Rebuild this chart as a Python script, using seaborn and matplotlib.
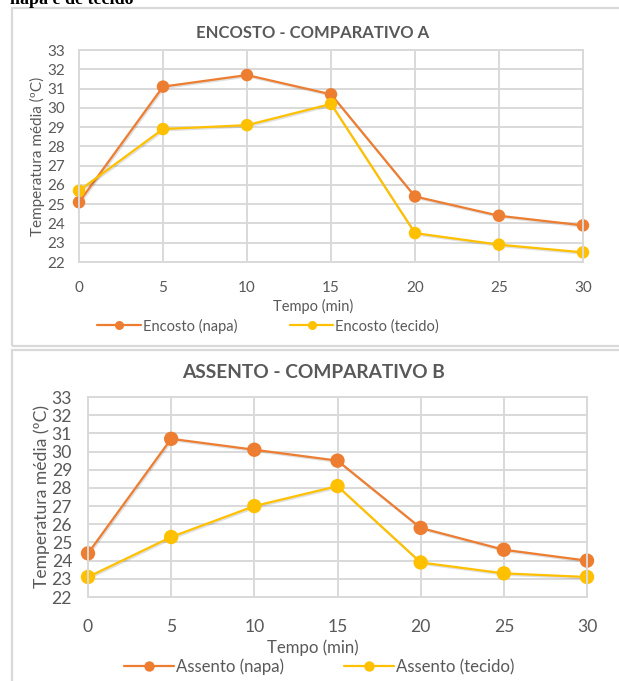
import numpy as np
import pandas as pd
import seaborn as sns
import matplotlib.pyplot as plt
from matplotlib.patches import Rectangle
import matplotlib.patheffects as pe

# --- Data ---
tempo = [0, 5, 10, 15, 20, 25, 30]
encosto_napa = [25.1, 31.1, 31.7, 30.7, 25.4, 24.4, 23.9]
encosto_tecido = [25.7, 28.9, 29.1, 30.2, 23.5, 22.9, 22.5]
assento_napa = [24.4, 30.7, 30.1, 29.5, 25.8, 24.6, 24.0]
assento_tecido = [23.1, 25.3, 27.0, 28.1, 23.9, 23.3, 23.1]

y_ticks = list(range(22, 34))
ORANGE = "#ED7D31"
YELLOW = "#FFC000"
TEXT = "#595959"
GRID = "#D9D9D9"

sns.set_theme(style="white")
plt.rcParams["font.family"] = ["Lato", "DejaVu Sans"]

W, H = 619, 681
fig = plt.figure(figsize=(W / 100, H / 100), dpi=100)


def px_axes(x0, y0, x1, y1):
    """Axes from pixel box (top-left origin)."""
    return fig.add_axes([x0 / W, 1 - y1 / H, (x1 - x0) / W, (y1 - y0) / H])


def draw_chart(ax, napa, tecido, names, title, scale, title_y, xlab_y, leg_x, leg_y, ylab_pad):
    df = pd.DataFrame({
        "tempo": tempo * 2,
        "temp": napa + tecido,
        "serie": [names[0]] * len(tempo) + [names[1]] * len(tempo),
    })
    sns.lineplot(data=df, x="tempo", y="temp", hue="serie",
                 palette=[ORANGE, YELLOW], marker="o", markersize=9 * scale,
                 markeredgewidth=0, linewidth=1.6, ax=ax, legend=False)
    for ln in ax.lines:
        ln.set_clip_on(False)
        ln.set_path_effects([pe.SimpleLineShadow(offset=(0.8, -1.0), alpha=0.12, shadow_color="black"),
                             pe.Normal()])

    ax.set_xlim(0, 30)
    ax.set_ylim(22, 33)
    ax.set_xticks(tempo)
    ax.set_yticks(y_ticks)
    ax.grid(True, color=GRID, linewidth=1.4)
    ax.set_axisbelow(True)
    for s in ax.spines.values():
        s.set_color(GRID)
        s.set_linewidth(1.4)
    ax.tick_params(axis="x", length=0, pad=13.5 * scale, labelsize=11 * scale, labelcolor=TEXT)
    ax.tick_params(axis="y", length=0, pad=10 * scale, labelsize=11 * scale, labelcolor=TEXT)
    ax.set_xlabel("")
    ax.set_ylabel("Temperatura média (ºC)", fontsize=11 * scale, color=TEXT, labelpad=ylab_pad)

    fig.text(313 / W, 1 - title_y / H, title, ha="center", va="center",
             fontsize=12 * scale, fontweight="bold", color=TEXT)
    fig.text(313 / W, 1 - xlab_y / H, "Tempo (min)", ha="center", va="center",
             fontsize=10.5 * scale, color=TEXT)

    handles = [plt.Line2D([], [], color=c, marker="o", markersize=6.5 * scale,
                          markeredgewidth=0, linewidth=1.6) for c in (ORANGE, YELLOW)]
    fig.legend(handles, names, loc="center", bbox_to_anchor=(leg_x / W, 1 - leg_y / H),
               ncol=2, frameon=False, fontsize=10.5 * scale, labelcolor=TEXT,
               handlelength=3.0, handletextpad=0.1, columnspacing=3.6)


# chart frames
fig.patches.append(Rectangle((12 / W, 1 - 346 / H), 640 / W, 338 / H,
                             transform=fig.transFigure, fill=False,
                             edgecolor=GRID, linewidth=1.6))
fig.patches.append(Rectangle((12 / W, 1 - 700 / H), 640 / W, 350 / H,
                             transform=fig.transFigure, fill=False,
                             edgecolor=GRID, linewidth=1.6))

# caption from the page above the charts, cropped at the top edge as in the source
fig.text(10 / W, 1 - 4 / H, "napa e de tecido", ha="left", va="baseline",
         fontsize=13, fontweight="bold", family="Liberation Serif", color="black")

ax1 = px_axes(79, 50, 583, 262)
draw_chart(ax1, encosto_napa, encosto_tecido, ["Encosto (napa)", "Encosto (tecido)"],
           "ENCOSTO - COMPARATIVO A", 1.0, 33, 306, 268, 326, 2)

ax2 = px_axes(88, 397, 587, 597)
draw_chart(ax2, assento_napa, assento_tecido, ["Assento (napa)", "Assento (tecido)"],
           "ASSENTO - COMPARATIVO B", 1.15, 373, 648, 319, 667, 1)

fig.savefig("out.png", dpi=100)
